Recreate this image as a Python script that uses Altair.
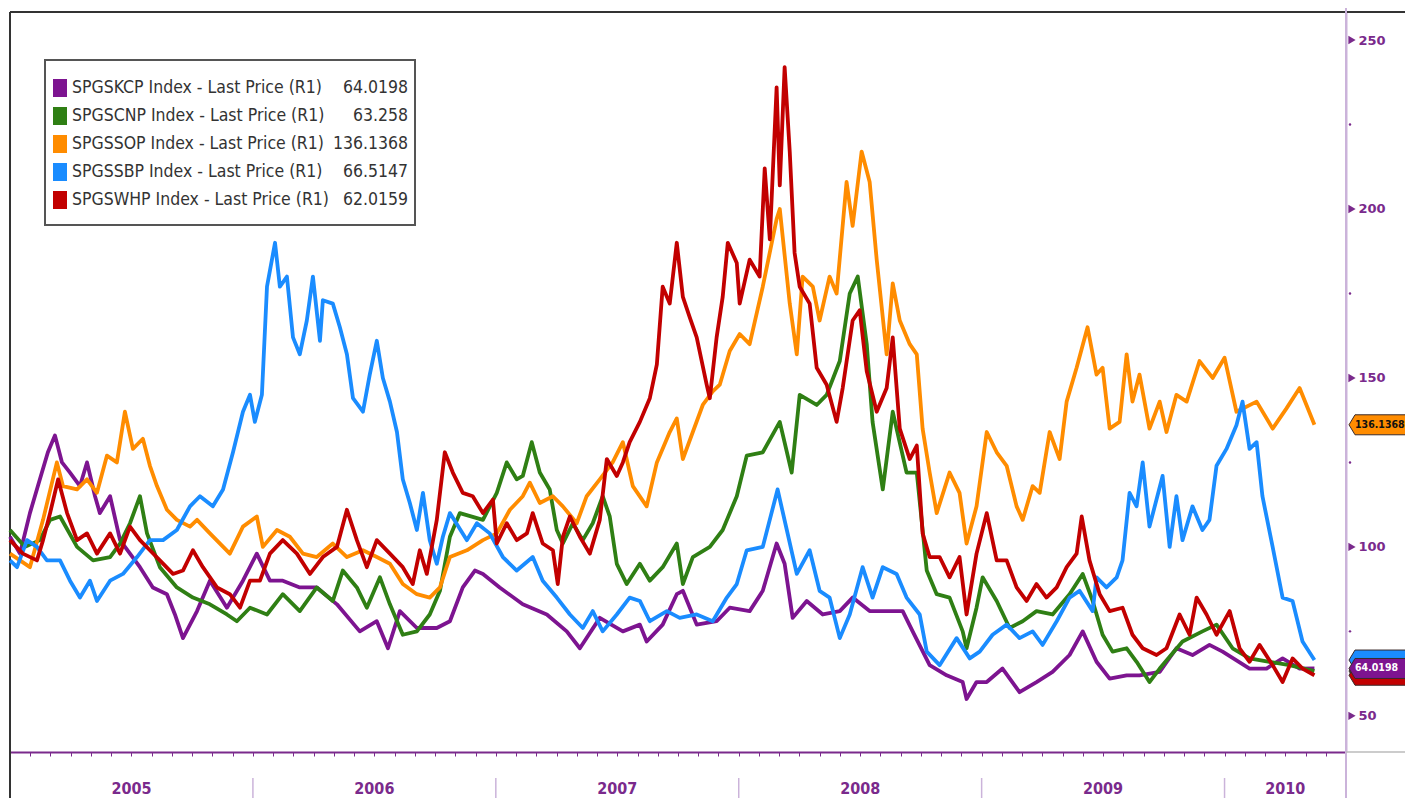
import altair as alt
import pandas as pd

# ---------------- data (time = years since 1 Jan 2005) ----------------
names = ["SPGSKCP", "SPGSCNP", "SPGSSOP", "SPGSSBP", "SPGSWHP"]
colors = ["#7d1490", "#2f7f14", "#ff8c00", "#1a8cff", "#c20000"]
last_values = ["64.0198", "63.258", "136.1368", "66.5147", "62.0159"]
tag_texts = ["64.0198", "", "136.1368", "", ""]
years = ["2005", "2006", "2007", "2008", "2009", "2010"]
y_ticks = [50, 100, 150, 200, 250]
y_minor = [75, 125, 175, 225]

kc_t = [0.000,0.041,0.082,0.123,0.156,0.185,0.214,0.247,0.288,0.317,0.350,0.370,0.412,0.453,0.494,0.535,0.588,0.646,0.679,0.712,
        0.770,0.823,0.893,0.959,1.016,1.070,1.123,1.193,1.263,1.346,1.440,1.510,1.556,1.605,1.675,1.757,1.811,1.864,1.914,1.947,
        2.016,2.111,2.210,2.292,2.346,2.428,2.523,2.593,2.621,2.687,2.745,2.770,2.827,2.909,2.963,3.045,3.099,3.156,3.189,3.222,
        3.280,3.346,3.416,3.469,3.539,3.609,3.675,3.716,3.786,3.856,3.922,3.938,3.979,4.021,4.086,4.156,4.226,4.292,4.362,4.416,
        4.473,4.527,4.597,4.650,4.733,4.802,4.868,4.938,4.992,5.103,5.173,5.239,5.309,5.370]
kc_v = [103,98,110,120,128,133,125,122,118,125,115,110,115,102,98,94,88,86,80,73,
        81,90,82,90,98,90,90,88,88,83,75,78,70,81,76,76,78,88,93,92,
        88,83,80,75,70,79,75,77,72,77,86,87,77,78,82,81,87,101,95,79,
        84,80,81,85,81,81,81,75,65,62,60,55,60,60,64,57,60,63,68,75,
        66,61,62,62,63,70,68,71,69,64,64,67,64,64.02]

cn_t = [0.000,0.062,0.123,0.165,0.206,0.276,0.342,0.412,0.453,0.494,0.535,0.564,0.617,0.687,0.753,0.823,0.893,0.934,0.988,1.058,
        1.123,1.193,1.263,1.329,1.370,1.428,1.469,1.523,1.564,1.617,1.675,1.728,1.770,1.811,1.852,1.947,2.004,2.045,2.086,2.111,
        2.148,2.181,2.222,2.251,2.276,2.317,2.358,2.399,2.440,2.469,2.498,2.539,2.593,2.634,2.687,2.745,2.770,2.811,2.881,2.934,
        2.992,3.033,3.099,3.169,3.218,3.251,3.321,3.362,3.416,3.457,3.490,3.527,3.551,3.593,3.634,3.691,3.733,3.774,3.815,3.868,
        3.922,3.938,3.979,4.004,4.062,4.115,4.169,4.226,4.292,4.362,4.416,4.457,4.498,4.539,4.597,4.638,4.691,4.733,4.827,4.909,
        4.967,5.033,5.103,5.185,5.267,5.370]
cn_v = [105,100,102,108,109,100,96,97,101,107,115,104,94,88,85,83,80,78,82,80,
        86,81,88,84,93,88,82,91,83,74,75,80,87,103,110,108,116,125,120,121,
        131,122,117,105,101,107,102,107,115,109,95,89,95,90,94,101,89,97,100,105,
        115,127,128,137,122,145,142,145,155,175,180,160,137,117,140,122,122,93,86,85,
        75,70,82,91,84,76,78,81,80,86,92,84,74,69,70,66,60,64,72,75,
        77,70,67,66,65,63.26]

so_t = [0.000,0.082,0.136,0.193,0.218,0.276,0.317,0.358,0.399,0.440,0.473,0.506,0.547,0.576,0.605,0.646,0.687,0.741,0.770,0.823,
        0.905,0.959,1.016,1.041,1.099,1.152,1.206,1.263,1.329,1.387,1.453,1.510,1.564,1.617,1.675,1.728,1.770,1.811,1.881,1.947,
        2.004,2.058,2.111,2.140,2.181,2.235,2.276,2.333,2.374,2.428,2.481,2.523,2.564,2.621,2.663,2.716,2.745,2.770,2.811,2.852,
        2.893,2.922,2.963,3.004,3.045,3.099,3.156,3.169,3.210,3.239,3.263,3.305,3.333,3.374,3.403,3.444,3.469,3.506,3.539,3.568,
        3.609,3.634,3.663,3.704,3.733,3.757,3.786,3.815,3.868,3.909,3.938,3.979,4.021,4.062,4.103,4.144,4.169,4.210,4.239,4.280,
        4.321,4.350,4.391,4.436,4.473,4.498,4.527,4.568,4.597,4.621,4.650,4.691,4.733,4.761,4.802,4.844,4.897,4.951,5.000,5.049,
        5.132,5.198,5.255,5.309,5.370]
so_v = [98,94,108,125,118,117,120,116,127,125,140,129,132,124,118,111,108,106,108,104,
        98,106,109,100,105,103,98,97,101,97,99,97,95,89,86,85,88,97,99,102,
        104,111,115,119,113,115,112,107,115,120,125,131,118,112,125,134,138,126,134,142,
        146,148,158,163,160,177,197,200,172,157,180,177,167,180,175,208,195,217,208,185,
        157,178,167,160,157,135,122,110,122,116,101,112,134,128,124,112,108,118,116,134,
        126,143,153,165,151,153,135,137,157,143,151,135,143,134,145,143,155,150,156,140,
        143,135,141,147,136.14]

sb_t = [0.000,0.029,0.070,0.111,0.152,0.206,0.247,0.288,0.329,0.358,0.412,0.465,0.523,0.576,0.630,0.687,0.741,0.782,0.835,0.877,
        0.918,0.959,0.988,1.008,1.037,1.058,1.091,1.111,1.140,1.165,1.193,1.222,1.247,1.276,1.288,1.329,1.358,1.387,1.412,1.453,
        1.481,1.510,1.535,1.564,1.593,1.617,1.646,1.675,1.700,1.728,1.757,1.782,1.811,1.881,1.922,1.975,2.029,2.086,2.152,2.193,
        2.251,2.305,2.358,2.399,2.440,2.498,2.551,2.593,2.634,2.704,2.757,2.827,2.893,2.951,2.992,3.033,3.099,3.160,3.198,3.239,
        3.292,3.333,3.374,3.416,3.457,3.510,3.551,3.593,3.650,3.691,3.745,3.774,3.827,3.897,3.951,3.992,4.045,4.103,4.156,4.210,
        4.251,4.309,4.362,4.403,4.457,4.473,4.514,4.556,4.580,4.609,4.638,4.663,4.691,4.745,4.774,4.802,4.827,4.868,4.909,4.938,
        4.967,5.008,5.049,5.074,5.103,5.132,5.156,5.198,5.239,5.280,5.321,5.370]
sb_v = [96,94,102,100,96,96,90,85,90,84,90,92,97,102,102,105,112,115,112,117,
        128,140,145,137,145,177,190,177,180,162,157,167,180,161,173,172,165,157,144,140,
        151,161,150,143,134,120,113,105,116,102,95,103,110,102,107,104,97,93,97,90,
        85,80,76,81,75,80,85,84,78,81,79,80,78,85,89,99,100,117,105,92,
        99,87,85,73,80,94,85,94,92,85,80,69,65,73,67,69,74,77,73,75,
        71,78,85,87,81,91,88,91,96,116,112,125,106,121,100,115,102,112,105,108,
        124,129,136,143,129,131,115,100,85,84,72,66.51]

wh_t = [0.000,0.053,0.111,0.136,0.165,0.198,0.235,0.276,0.317,0.358,0.412,0.453,0.494,0.535,0.576,0.617,0.671,0.712,0.753,0.794,
        0.852,0.905,0.947,0.988,1.029,1.070,1.123,1.181,1.235,1.288,1.346,1.387,1.428,1.469,1.510,1.564,1.617,1.658,1.687,1.716,
        1.757,1.790,1.823,1.864,1.905,1.947,1.988,2.004,2.045,2.086,2.128,2.152,2.193,2.235,2.255,2.276,2.305,2.346,2.387,2.428,
        2.457,2.498,2.523,2.551,2.593,2.634,2.663,2.687,2.716,2.745,2.770,2.798,2.827,2.868,2.881,2.909,2.934,2.955,2.992,3.004,
        3.045,3.086,3.107,3.128,3.156,3.169,3.189,3.210,3.230,3.251,3.292,3.321,3.362,3.403,3.428,3.469,3.498,3.527,3.568,3.609,
        3.634,3.663,3.704,3.733,3.757,3.786,3.827,3.868,3.909,3.938,3.979,4.021,4.062,4.103,4.144,4.185,4.226,4.267,4.309,4.350,
        4.391,4.412,4.444,4.486,4.527,4.580,4.621,4.663,4.720,4.761,4.815,4.856,4.885,4.926,4.967,5.021,5.062,5.103,5.144,5.198,
        5.239,5.280,5.321,5.370]
wh_v = [102,98,96,102,110,120,110,102,104,98,104,98,106,102,99,96,92,93,99,94,
        88,86,82,90,90,98,102,98,92,97,100,111,102,94,102,98,94,89,99,92,
        108,128,122,116,115,110,114,101,107,102,104,110,101,99,89,103,109,103,98,108,
        126,121,125,131,137,144,154,177,172,190,174,168,162,148,144,162,174,190,184,172,
        185,180,212,191,236,207,242,217,187,177,172,153,148,137,147,167,170,152,140,147,
        162,135,126,130,104,97,97,91,97,80,98,110,96,96,88,84,89,85,88,94,
        98,109,96,86,81,82,74,70,68,70,80,74,85,80,74,81,70,66,71,65,
        60,67,64,62.02]

series_t = [kc_t, cn_t, so_t, sb_t, wh_t]
series_v = [kc_v, cn_v, so_v, sb_v, wh_v]
for nm, tt, vv in zip(names, series_t, series_v):
    assert len(tt) == len(vv), (nm, len(tt), len(vv))

# ---------------- layout ----------------
W, H = 1336, 740
T_END = 5.5
PURPLE = "#7a2a8c"
AX_LIGHT = "#cbb3da"
FONT_COND = "Liberation Sans Narrow, DejaVu Sans Condensed, sans-serif"

xs = alt.Scale(domain=[0, T_END], nice=False, zero=False)
ys = alt.Scale(domain=[39.3, 258.3], nice=False, zero=False)

month_ticks = [k / 12 for k in range(int(T_END * 12) + 1)]
X = alt.X("t:Q", scale=xs, title=None,
          axis=alt.Axis(values=month_ticks, labels=False, ticks=True, tickSize=4,
                        tickColor=PURPLE, tickWidth=1, domainColor=PURPLE, domainWidth=2,
                        grid=False, orient="bottom"))
Y = alt.Y("v:Q", scale=ys, title=None,
          axis=alt.Axis(orient="right", values=y_ticks, ticks=False, grid=False,
                        domainColor=AX_LIGHT, domainWidth=2, labelColor=PURPLE,
                        labelFont="DejaVu Sans", labelFontWeight="bold", labelFontSize=13,
                        labelPadding=12, labelBaseline="middle"))

one = pd.DataFrame({"a": [0]})
layers = []

# frame lines
layers.append(alt.Chart(one).mark_rule(color="#333333", strokeWidth=2).encode(
    x=alt.value(0), x2=alt.value(W + 80), y=alt.value(0)))
layers.append(alt.Chart(one).mark_rule(color="#333333", strokeWidth=2).encode(
    x=alt.value(0), y=alt.value(0), y2=alt.value(H + 70)))
layers.append(alt.Chart(one).mark_rule(color=AX_LIGHT, strokeWidth=2).encode(
    x=alt.value(W), y=alt.value(-12), y2=alt.value(H + 70)))
layers.append(alt.Chart(one).mark_rule(color="#bbbbbb", strokeWidth=1.5).encode(
    x=alt.value(W), x2=alt.value(W + 80), y=alt.value(H)))

# year separators and labels
sep_df = pd.DataFrame({"t": [float(i) for i in range(1, len(years))]})
layers.append(alt.Chart(sep_df).mark_rule(color=AX_LIGHT, strokeWidth=1.5).encode(
    x=X, y=alt.value(H + 26), y2=alt.value(H + 70)))
year_df = pd.DataFrame({"label": years,
                        "t": [(i + min(i + 1, T_END)) / 2 for i in range(len(years))]})
layers.append(alt.Chart(year_df).mark_text(font=FONT_COND, fontSize=16, fontWeight="bold",
                                           color=PURPLE, baseline="middle", align="center").encode(
    x=X, y=alt.value(H + 37), text="label:N"))

# series lines (legend order, last drawn on top)
for nm, col, tt, vv in zip(names, colors, series_t, series_v):
    df = pd.DataFrame({"t": tt, "v": vv})
    layers.append(alt.Chart(df).mark_line(color=col, strokeWidth=3.8, strokeJoin="round").encode(
        x=X, y=Y))

# right axis arrow ticks and minor dots
layers.append(alt.Chart(pd.DataFrame({"v": y_ticks})).mark_point(
    shape="triangle-right", filled=True, size=70, color=PURPLE, opacity=1).encode(
    x=alt.value(W + 6), y=Y))
layers.append(alt.Chart(pd.DataFrame({"v": y_minor})).mark_point(
    shape="circle", filled=True, size=6, color=PURPLE, opacity=1).encode(
    x=alt.value(W + 4), y=Y))

# right-side value tags (only the top-most tags' texts are visible in the reference)
tag_order = [1, 4, 3, 0, 2]
tag_df = pd.DataFrame({
    "v": [float(last_values[i]) for i in tag_order],
    "txt": [tag_texts[i] for i in tag_order],
    "fillc": [colors[i] for i in tag_order],
    "textc": ["#ffffff", "#ffffff", "#ffffff", "#ffffff", "#111111"],
    "k": list(range(len(tag_order))),
})
TAG_PATH = "M 0 0 L 0.6 -1 L 9 -1 L 9 1 L 0.6 1 Z"
for k in range(len(tag_order)):
    sub = tag_df[tag_df.k == k]
    layers.append(alt.Chart(sub).mark_point(shape=TAG_PATH, size=400, filled=True,
                                            stroke="#3a2a2a", strokeWidth=1, opacity=1).encode(
        x=alt.value(W + 3), y=Y, fill=alt.Fill("fillc:N", scale=None)))
    if sub["txt"].iloc[0]:
        layers.append(alt.Chart(sub).mark_text(font="DejaVu Sans Condensed", fontSize=10.5,
                                               fontWeight="bold", align="left", baseline="middle").encode(
            x=alt.value(W + 9), y=Y, text="txt:N", color=alt.Color("textc:N", scale=None)))

# legend box
layers.append(alt.Chart(one).mark_rect(fill="#ffffff", stroke="#555555", strokeWidth=2).encode(
    x=alt.value(35), x2=alt.value(405), y=alt.value(48), y2=alt.value(213)))
leg_df = pd.DataFrame({
    "label": [f"{n} Index - Last Price (R1)" for n in names],
    "val": last_values,
    "col": colors,
    "ly": [76 + 28 * i for i in range(len(names))],
})
leg_df["ly0"] = leg_df["ly"] - 9
leg_df["ly1"] = leg_df["ly"] + 9
layers.append(alt.Chart(leg_df).mark_rect().encode(
    x=alt.value(43), x2=alt.value(57),
    y=alt.Y("ly0:Q", scale=None), y2="ly1:Q",
    fill=alt.Fill("col:N", scale=None)))
layers.append(alt.Chart(leg_df).mark_text(font="DejaVu Sans Condensed", fontSize=17.5,
                                          color="#333333", align="left", baseline="middle").encode(
    x=alt.value(62), y=alt.Y("ly:Q", scale=None), text="label:N"))
layers.append(alt.Chart(leg_df).mark_text(font="DejaVu Sans Condensed", fontSize=17.5,
                                          color="#333333", align="right", baseline="middle").encode(
    x=alt.value(398), y=alt.Y("ly:Q", scale=None), text="val:N"))

chart = alt.layer(*layers).properties(
    width=W, height=H,
    padding={"left": 2, "top": 4, "right": 59, "bottom": 46},
    autosize=alt.AutoSizeParams(type="none"),
    background="#ffffff",
).configure_view(stroke=None)

chart.save("out.html", embed_options={"renderer": "svg", "actions": False})
